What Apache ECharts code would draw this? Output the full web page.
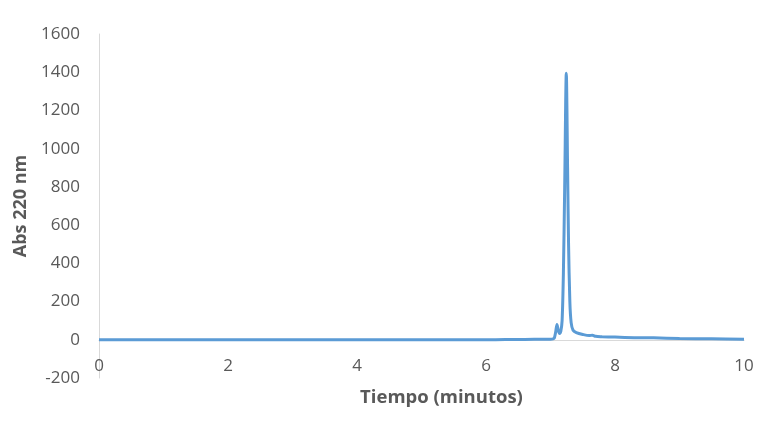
<!DOCTYPE html>
<html>
<head>
<meta charset="utf-8">
<script src="https://cdn.jsdelivr.net/npm/echarts@6/dist/echarts.min.js"></script>
<style>
html,body{margin:0;padding:0;background:#fff;}
#c{width:764px;height:432px;}
</style>
</head>
<body>
<div id="c"></div>
<script>
const timeMin = [0, 1, 2, 3, 4, 5, 6, 6.3, 6.6, 6.9, 7.0, 7.04, 7.06, 7.08, 7.10, 7.12, 7.14, 7.16, 7.18, 7.20, 7.22, 7.245, 7.265, 7.28, 7.30, 7.32, 7.35, 7.40, 7.50, 7.60, 7.65, 7.70, 7.80, 8.0, 8.3, 8.6, 9.0, 9.5, 10.0];
const absValues = [0, 0, 0, 0, 0, 0, 0, 1, 2, 3, 3, 5, 10, 40, 80, 50, 33, 45, 100, 350, 800, 1395, 900, 500, 200, 90, 50, 38, 28, 22, 24, 18, 16, 14, 11, 10, 7, 5, 3];
const xTicks = [0, 2, 4, 6, 8, 10];
const yTicks = [-200, 0, 200, 400, 600, 800, 1000, 1200, 1400, 1600];

const seriesData = timeMin.map((t, i) => [t, absValues[i]]);
const font = '"Open Sans", sans-serif';
const chart = echarts.init(document.getElementById('c'), null, {renderer: 'canvas'});
chart.setOption({
  animation: false,
  backgroundColor: '#ffffff',
  grid: {left: 99, right: 20, top: 34, bottom: 54, containLabel: false, outerBoundsMode: 'none'},
  xAxis: {
    type: 'value',
    min: xTicks[0], max: xTicks[xTicks.length - 1], interval: 2,
    name: 'Tiempo (minutos)',
    nameLocation: 'middle',
    nameGap: 10,
    nameTextStyle: {fontFamily: font, fontSize: 18.5, fontWeight: 'bold', color: '#595959', padding: [0, 0, 0, 40]},
    axisLine: {onZero: true, lineStyle: {color: '#D9D9D9', width: 1}},
    axisTick: {show: false},
    splitLine: {show: false},
    axisLabel: {fontFamily: font, fontSize: 17, color: '#595959', margin: -20,
      formatter: v => String(v)}
  },
  yAxis: {
    type: 'value',
    min: yTicks[0], max: yTicks[yTicks.length - 1], interval: 200,
    name: 'Abs 220 nm',
    nameLocation: 'middle',
    nameGap: 66,
    nameRotate: 90,
    nameTextStyle: {fontFamily: font, fontSize: 18, fontWeight: 'bold', color: '#595959'},
    axisLine: {show: true, lineStyle: {color: '#D9D9D9', width: 1}},
    axisTick: {show: false},
    splitLine: {show: false},
    axisLabel: {fontFamily: font, fontSize: 17, color: '#595959', margin: 19,
      formatter: v => String(v)}
  },
  series: [{
    type: 'line',
    data: seriesData,
    showSymbol: false,
    smooth: 0.3,
    lineStyle: {color: '#5B9BD5', width: 3},
    itemStyle: {color: '#5B9BD5'}
  }]
});
</script>
</body>
</html>
